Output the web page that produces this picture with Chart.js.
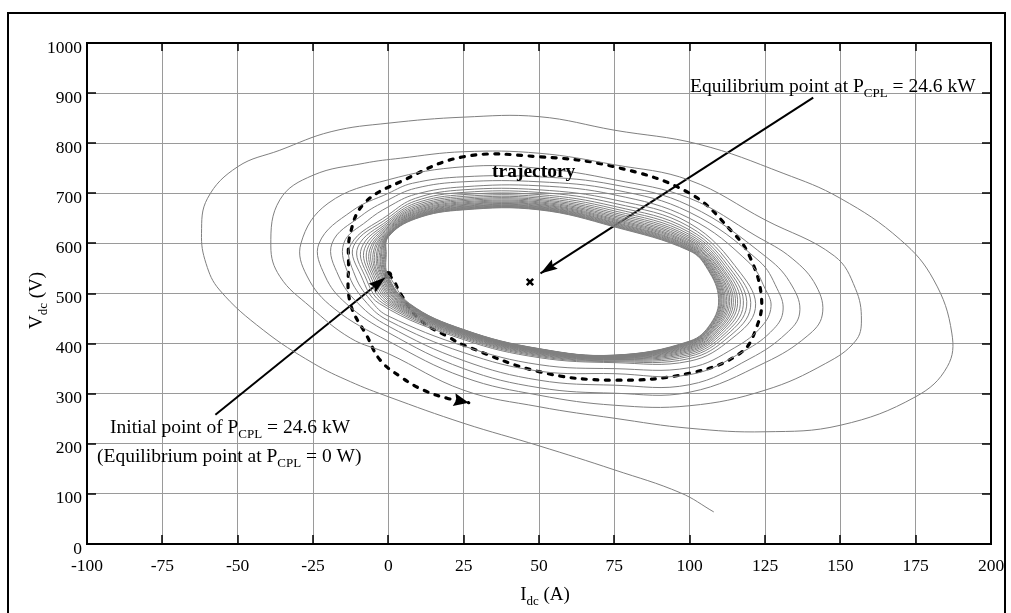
<!DOCTYPE html>
<html>
<head>
<meta charset="utf-8">
<title>Vdc - Idc phase plane</title>
<script src="https://cdn.jsdelivr.net/npm/chart.js@4.4.1/dist/chart.umd.min.js"></script>
<style>
  html, body { margin: 0; padding: 0; background: #ffffff; }
  canvas { display: block; }
</style>
</head>
<body>
<canvas id="phase" width="1011" height="613"></canvas>
<script>
'use strict';

// tick values of both axes
var xTicks = [-100, -75, -50, -25, 0, 25, 50, 75, 100, 125, 150, 175, 200];
var yTicks = [0, 100, 200, 300, 400, 500, 600, 700, 800, 900, 1000];

// spiral as [Idc, Vdc]; tight loops first, starting at the initial point
var denseLoops = [
    [[0,537],[7,480],[25,428],[50,390],[75,377],[100,405],[107,440],[109.6,490],[106,548],[100,585],[75,633],[50,667],[25,667],[9,649],[0,613]],
    [[-0.7,578.3],[-0.2,537],[6.8,480],[25,427.6],[50,389.6],[75,376.7],[100,404.2],[107.1,439.4],[109.8,489.6],[106.2,547.8],[100,586.1],[75,634.1],[50,667.8],[25,667.8],[9,649.8],[0,613.9]],
    [[-0.9,578.7],[-0.4,536.9],[6.6,480],[25,427.2],[50,389.3],[75,376.4],[100,403.4],[107.3,438.8],[110.1,489.2],[106.4,547.7],[100,587.2],[75,635.2],[50,668.6],[25,668.6],[9,650.6],[0,614.8]],
    [[-1.2,579.1],[-0.6,536.9],[6.4,480],[25,426.7],[50,388.8],[75,376],[100,402.4],[107.5,438],[110.4,488.7],[106.7,547.5],[100,588.6],[75,636.5],[50,669.6],[25,669.6],[9,651.7],[0,615.9]],
    [[-1.5,579.5],[-0.8,536.8],[6.1,480],[25,426.2],[50,388.4],[75,375.7],[100,401.4],[107.6,437.3],[110.7,488.2],[107,547.3],[100,590],[75,637.9],[50,670.6],[25,670.6],[9,652.7],[0,617]],
    [[-1.8,580],[-1.1,536.8],[5.8,480],[25,425.6],[50,387.8],[75,375.2],[100,400.2],[107.8,436.4],[111.1,487.6],[107.3,547],[100,591.6],[75,639.5],[50,671.8],[25,671.8],[9,653.9],[0,618.3]],
    [[-2.2,580.6],[-1.4,536.7],[5.5,480],[25,425],[50,387.3],[75,374.8],[100,399],[108.1,435.5],[111.4,487],[107.7,546.8],[100,593.3],[75,641.1],[50,673],[25,673],[9,655.2],[0,619.6]],
    [[-2.5,581.1],[-1.6,536.6],[5.2,480],[25,424.4],[50,386.8],[75,374.3],[100,397.8],[108.3,434.6],[111.8,486.4],[108,546.6],[100,594.9],[75,642.7],[50,674.2],[25,674.2],[9,656.4],[0,620.9]],
    [[-2.9,581.7],[-2,536.6],[4.8,480],[25,423.6],[50,386],[75,373.7],[100,396.2],[108.5,433.4],[112.3,485.6],[108.4,546.2],[100,597.1],[75,644.9],[50,675.8],[25,675.8],[9,658],[0,622.7]],
    [[-3.4,582.4],[-2.3,536.5],[4.4,480],[25,422.8],[50,385.3],[75,373.1],[100,394.6],[108.8,432.2],[112.8,484.8],[108.9,545.9],[100,599.3],[75,647],[50,677.4],[25,677.4],[9,659.7],[0,624.4]],
    [[-3.8,583.1],[-2.7,536.4],[4,480],[25,422],[50,384.6],[75,372.5],[100,393],[109.1,431],[113.3,484],[109.3,545.6],[100,601.5],[75,649.2],[50,679],[25,679],[9,661.3],[0,626.2]],
    [[-4.4,584],[-3.2,536.3],[3.5,480],[25,421],[50,383.7],[75,371.8],[100,391],[109.5,429.5],[113.9,483],[109.9,545.2],[100,604.3],[75,651.9],[50,681],[25,681],[9,663.4],[0,628.4]],
    [[-4.9,584.8],[-3.6,536.2],[3,480],[25,420],[50,382.8],[75,371],[100,389],[109.8,428],[114.5,482],[110.4,544.8],[100,607],[75,654.6],[50,683],[25,683],[9,665.4],[0,630.6]],
    [[-5.6,585.8],[-4.1,536.1],[2.4,480],[25,418.8],[50,381.7],[75,370.1],[100,386.6],[110.2,426.2],[115.2,480.8],[111.1,544.3],[100,610.3],[75,657.8],[50,685.4],[25,685.4],[9,667.9],[0,633.2]],
    [[-6.2,586.8],[-4.7,536],[1.8,480],[25,417.6],[50,380.6],[75,369.2],[100,384.2],[110.6,424.4],[115.9,479.6],[111.7,543.8],[100,613.6],[75,661.1],[50,687.8],[25,687.8],[9,670.3],[0,635.9]],
    [[-7,588],[-5.3,535.8],[1.1,480],[25,416.2],[50,379.4],[75,368.2],[100,381.4],[111.1,422.3],[116.8,478.2],[112.5,543.3],[100,617.5],[75,664.9],[50,690.6],[25,690.6],[9,673.2],[0,639]],
    [[-7.9,589.4],[-6,535.7],[0.3,480],[25,414.6],[50,377.9],[75,367],[100,378.2],[111.7,419.9],[117.8,476.6],[113.4,542.6],[100,621.9],[75,669.2],[50,693.8],[25,693.8],[9,676.5],[0,642.5]],
    [[-8.9,590.9],[-6.8,535.5],[-0.6,480],[25,412.8],[50,376.3],[75,365.6],[100,374.6],[112.3,417.2],[118.9,474.8],[114.4,541.9],[100,626.8],[75,674],[50,697.4],[25,697.4],[9,680.2],[0,646.4]],
    [[-10.1,592.8],[-7.8,535.3],[-1.7,480],[25,410.6],[50,374.3],[75,364],[100,370.2],[113.1,413.9],[120.2,472.6],[115.6,541],[100,632.9],[75,680],[50,701.8],[25,701.8],[9,684.7],[0,651.3]],
    [[-11.5,595],[-9,535],[-3,480],[25,408],[50,372],[75,362],[100,365],[114,410],[121.8,470],[117,540],[100,640],[75,687],[50,707],[25,707],[9,690],[0,657]]
];

// the wider loops, in the order they are traced
var loopOuter6 = [[-12.5,597],[-11,535],[-5,480],[0,455],[25,395],[50,358],[75,350],[100,352],[115,392],[124,435],[127,474],[125,510],[120,560],[100,650],[75,697],[50,715],[25,713],[9,698],[0,673],[-7,645]];
var loopOuter5 = [[-14.8,600],[-13,535],[-7,480],[0,446],[25,382],[50,345],[75,340],[100,338],[118,385],[128,430],[131,467],[129,510],[123,565],[100,662],[75,707],[50,723],[25,723],[9,710],[0,687],[-9,655]];
var loopOuter4 = [[-18.7,600],[-16.5,535],[-10,480],[0,435],[25,366],[50,327],[75,317],[100,318],[120,370],[132,420],[136.5,461],[134,515],[126,570],[100,675],[75,717],[50,733],[25,733],[8,720],[0,700],[-12,665]];
var loopOuter3 = [[-23,600],[-21,535],[-14,480],[0,422],[25,350],[50,312],[75,301],[100,303],[125,362],[139,415],[144,457],[142,515],[134,570],[122,615],[100,690],[75,727],[50,750],[25,753],[0,727],[-20,680]];
var loopOuter2 = [[-29,600],[-27,535],[-18,470],[0,405],[25,333],[50,297],[75,277],[100,276],[125,307],[145,360],[155,405],[157,447],[155,510],[148,575],[125,647],[100,726],[75,757],[50,780],[25,783],[4,770],[-8,760],[-25,736],[-36,687]];
var loopOuter1 = [[-39,595],[-36,534],[-26,474],[-12.6,411],[0,380],[25,307],[50,274],[75,251],[100,231],[125,224],[150,237],[175,294],[185.5,354],[187,421],[181,527],[170,607],[150,690],[131,740],[103,798],[75,826],[50,853],[25,852],[0,840],[-19,823]];
var exitPath = [[-36,786],[-50,753],[-60,690],[-62,620],[-60.5,560],[-56,507],[-41.5,427],[-25,361],[-12.6,324],[0,294],[25,241],[50,196],[75,148],[97,102],[108,64]];

// annotation marks
var trajectoryGuide = [[0,537],[1.7,527],[4,500],[10.6,447],[20.6,411],[25,397],[50,344],[75,327],[100,341],[116.8,381],[122.3,434],[123.8,494],[120,573],[114.6,620],[100,700],[75,753],[50,773],[25,773],[4,723],[-8,680],[-12.6,620],[-13.2,560],[-12.6,480],[-7,414],[-2.7,367],[4,334],[11.7,307],[19.5,291],[26.7,282]];
var initialArrow = [[-57.4,258],[-1,532]];
var equilibriumArrow = [[141,891],[50.5,540]];
var initialPoint = [[0,537]];
var equilibriumPoint = [[47,523]];

// texts, [text, subscript?]
var xTitle = [['I', false], ['dc', true], [' (A)', false]];
var yTitle = [['V', false], ['dc', true], [' (V)', false]];
var noteEquilibrium = [['Equilibrium point at P', false], ['CPL', true], [' = 24.6 kW', false]];
var noteInitial = [['Initial point of P', false], ['CPL', true], [' = 24.6 kW', false]];
var noteInitialZero = [['(Equilibrium point at P', false], ['CPL', true], [' = 0 W)', false]];
var noteTrajectory = [['trajectory', false]];

var SERIF = '"Liberation Serif", "Times New Roman", serif';

function toPoints(list) {
    return list.map(function(p) { return { x: p[0], y: p[1] }; });
}

var spiral = [];
denseLoops.concat([loopOuter6, loopOuter5, loopOuter4, loopOuter3, loopOuter2, loopOuter1, exitPath])
    .forEach(function(loop) { spiral = spiral.concat(loop); });

function richText(ctx, parts, x, y, size, align, weight) {
    var subSize = Math.round(size * 0.66);
    var w = weight ? weight + ' ' : '';
    var total = 0;
    parts.forEach(function(p) {
        ctx.font = w + (p[1] ? subSize : size) + 'px ' + SERIF;
        total += ctx.measureText(p[0]).width;
    });
    var cx = align === 'center' ? x - total / 2 : x;
    ctx.textAlign = 'left';
    ctx.textBaseline = 'alphabetic';
    parts.forEach(function(p) {
        ctx.font = w + (p[1] ? subSize : size) + 'px ' + SERIF;
        ctx.fillText(p[0], cx, p[1] ? y + size * 0.24 : y);
        cx += ctx.measureText(p[0]).width;
    });
}

var decor = {
    id: 'decor',
    beforeDraw: function(chart) {
        var ctx = chart.ctx;
        ctx.save();
        ctx.fillStyle = '#ffffff';
        ctx.fillRect(0, 0, chart.width, chart.height);
        ctx.restore();
    },
    afterDatasetsDraw: function(chart) {
        var ctx = chart.ctx;
        chart.data.datasets.forEach(function(ds, i) {
            if (!ds.arrowHead) return;
            var pts = chart.getDatasetMeta(i).data;
            var tip = pts[pts.length - 1];
            var from = pts[pts.length - 2];
            var ang = Math.atan2(tip.y - from.y, tip.x - from.x);
            var len = ds.arrowHead[0], half = ds.arrowHead[1];
            ctx.save();
            ctx.translate(tip.x, tip.y);
            ctx.rotate(ang);
            ctx.beginPath();
            ctx.moveTo(0, 0);
            ctx.lineTo(-len, -half);
            ctx.lineTo(-len * 0.85, 0);
            ctx.lineTo(-len, half);
            ctx.closePath();
            ctx.fillStyle = '#000';
            ctx.fill();
            ctx.restore();
        });
    },
    afterDraw: function(chart) {
        var ctx = chart.ctx;
        var a = chart.chartArea;
        var xs = chart.scales.x, ys = chart.scales.y;
        ctx.save();
        ctx.fillStyle = '#000';
        ctx.strokeStyle = '#000';

        // inward tick marks on all four sides
        ctx.lineWidth = 1.5;
        ctx.beginPath();
        xTicks.forEach(function(v) {
            var px = Math.round(xs.getPixelForValue(v));
            ctx.moveTo(px, a.bottom); ctx.lineTo(px, a.bottom - 9);
            ctx.moveTo(px, a.top); ctx.lineTo(px, a.top + 8);
        });
        yTicks.forEach(function(v) {
            var py = Math.round(ys.getPixelForValue(v));
            ctx.moveTo(a.left, py); ctx.lineTo(a.left + 9, py);
            ctx.moveTo(a.right, py); ctx.lineTo(a.right - 9, py);
        });
        ctx.stroke();

        // axes box and outer frame
        ctx.lineWidth = 2;
        ctx.strokeRect(a.left, a.top, a.right - a.left, a.bottom - a.top);
        ctx.strokeRect(8, 13, 997, 660);

        // axis titles
        richText(ctx, xTitle, (a.left + a.right) / 2 + 6, 600, 19, 'center');
        ctx.save();
        ctx.translate(42, (a.top + a.bottom) / 2 + 7);
        ctx.rotate(-Math.PI / 2);
        richText(ctx, yTitle, 0, 0, 19, 'center');
        ctx.restore();

        // annotations
        richText(ctx, noteEquilibrium, 690, 92, 19.5, 'left');
        richText(ctx, noteTrajectory, 492, 177, 19.5, 'left', 'bold');
        richText(ctx, noteInitial, 110, 433, 19.5, 'left');
        richText(ctx, noteInitialZero, 97, 462, 19.5, 'left');
        ctx.restore();
    }
};

new Chart(document.getElementById('phase').getContext('2d'), {
    type: 'scatter',
    data: {
        datasets: [
            {
                label: 'spiral',
                data: toPoints(spiral),
                showLine: true,
                borderColor: '#808080',
                borderWidth: 1,
                pointRadius: 0,
                tension: 0.4
            },
            {
                label: 'trajectory',
                data: toPoints(trajectoryGuide),
                showLine: true,
                borderColor: '#000',
                borderWidth: 3.2,
                borderDash: [4, 7.5],
                borderCapStyle: 'round',
                pointRadius: 0,
                tension: 0.4,
                arrowHead: [15, 6.5]
            },
            {
                label: 'initial arrow',
                data: toPoints(initialArrow),
                showLine: true,
                borderColor: '#000',
                borderWidth: 2,
                pointRadius: 0,
                arrowHead: [17, 5.5]
            },
            {
                label: 'equilibrium arrow',
                data: toPoints(equilibriumArrow),
                showLine: true,
                borderColor: '#000',
                borderWidth: 2,
                pointRadius: 0,
                arrowHead: [17, 5.5]
            },
            {
                label: 'initial point',
                data: toPoints(initialPoint),
                pointStyle: 'circle',
                pointRadius: 3.5,
                backgroundColor: '#000',
                borderColor: '#000'
            },
            {
                label: 'equilibrium point',
                data: toPoints(equilibriumPoint),
                pointStyle: 'crossRot',
                pointRadius: 4.5,
                borderWidth: 2.5,
                borderColor: '#000'
            }
        ]
    },
    options: {
        responsive: false,
        animation: false,
        layout: { padding: { top: 43, right: 20, bottom: 0, left: 0 } },
        plugins: {
            legend: { display: false },
            tooltip: { enabled: false }
        },
        scales: {
            x: {
                type: 'linear',
                min: -100,
                max: 200,
                border: { display: false },
                // transparent tick marks only push the labels down
                grid: { color: '#9a9a9a', lineWidth: 1, drawTicks: true, tickLength: 12, tickColor: 'rgba(0,0,0,0)' },
                afterBuildTicks: function(scale) {
                    scale.ticks = xTicks.map(function(v) { return { value: v }; });
                },
                afterFit: function(scale) { scale.height = 69; },
                ticks: {
                    color: '#000',
                    padding: 0,
                    maxRotation: 0,
                    autoSkip: false,
                    font: { family: SERIF, size: 17.5 },
                    callback: function(v) { return String(v); }
                }
            },
            y: {
                type: 'linear',
                min: 0,
                max: 1000,
                border: { display: false },
                grid: { color: '#9a9a9a', lineWidth: 1, drawTicks: false },
                afterBuildTicks: function(scale) {
                    scale.ticks = yTicks.map(function(v) { return { value: v }; });
                },
                afterFit: function(scale) { scale.width = 87; },
                ticks: {
                    color: '#000',
                    padding: 5,
                    labelOffset: 5,
                    autoSkip: false,
                    font: { family: SERIF, size: 17.5 },
                    callback: function(v) { return String(v); }
                }
            }
        }
    },
    plugins: [decor]
});
</script>
</body>
</html>
